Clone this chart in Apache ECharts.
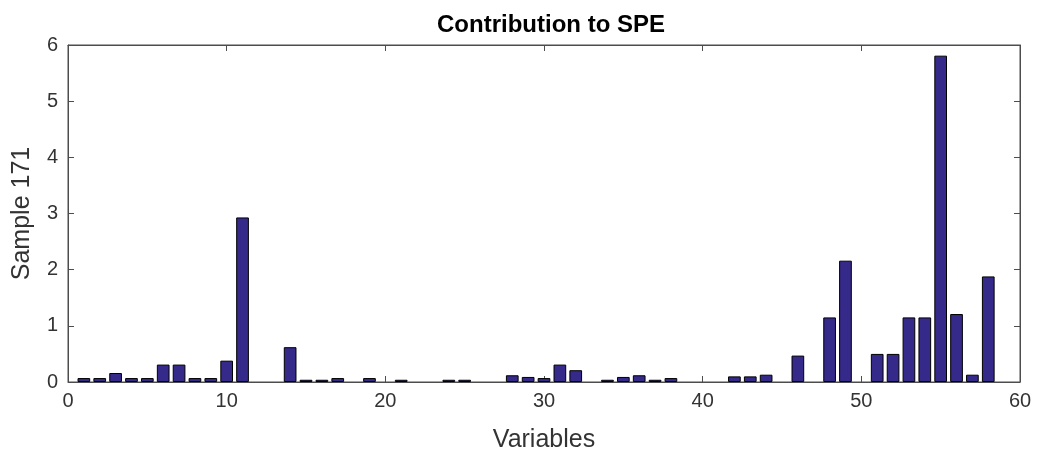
<!DOCTYPE html>
<html><head><meta charset="utf-8">
<script src="https://cdn.jsdelivr.net/npm/echarts@6/dist/echarts.min.js"></script>
<style>html,body{margin:0;padding:0;background:#fff}#c{width:1042px;height:458px}</style>
</head><body><div id="c"></div>
<script>
const variables = [1,2,3,4,5,6,7,8,9,10,11,12,13,14,15,16,17,18,19,20,21,22,23,24,25,26,27,28,29,30,31,32,33,34,35,36,37,38,39,40,41,42,43,44,45,46,47,48,49,50,51,52,53,54,55,56,57,58];
const contributions = [0.07,0.07,0.16,0.07,0.07,0.31,0.31,0.07,0.07,0.38,2.93,0,0,0.62,0.04,0.04,0.07,0,0.07,0,0.04,0,0,0.04,0.04,0,0,0.12,0.09,0.07,0.31,0.21,0,0.04,0.09,0.12,0.04,0.07,0,0,0,0.1,0.1,0.13,0,0.47,0,1.15,2.16,0,0.5,0.5,1.15,1.15,5.81,1.21,0.13,1.88];
const xTicks = [0,10,20,30,40,50,60];
const yTicks = [0,1,2,3,4,5,6];

const chart = echarts.init(document.getElementById('c'));
const font = 'Liberation Sans, Arial, sans-serif';
const lineCol = '#4d4d4d';
const mkLine = () => ({show:true, onZero:false, lineStyle:{color:lineCol, width:1}});
const mkTick = () => ({show:true, inside:true, length:6, lineStyle:{color:lineCol, width:1}});
const gridL = 68, gridR = 22, W = 1042;
const barW = (W - gridL - gridR) / (xTicks[xTicks.length-1] - xTicks[0]) * 0.8;
const data = [];
variables.forEach((v,i)=>{ if (contributions[i] > 0) data.push([v, contributions[i]]); });
chart.setOption({
  animation:false,
  title:{text:'Contribution to SPE', left:546, textAlign:'center', top:8,
    textStyle:{fontFamily:font, fontSize:24, fontWeight:'bold', color:'#000'}},
  grid:{left:gridL, right:gridR, top:45, bottom:75, show:true, borderColor:lineCol, borderWidth:1, backgroundColor:'transparent'},
  xAxis:[{type:'value', min:xTicks[0], max:xTicks[xTicks.length-1], interval:10, position:'bottom',
    name:'Variables', nameLocation:'middle', nameGap:46,
    nameTextStyle:{fontFamily:font, fontSize:25, color:'#333'},
    axisLine:mkLine(), axisTick:mkTick(), splitLine:{show:false},
    axisLabel:{fontFamily:font, fontSize:20, color:'#333', margin:9}},
   {type:'value', min:xTicks[0], max:xTicks[xTicks.length-1], interval:10, position:'top',
    axisLine:mkLine(), axisTick:mkTick(), splitLine:{show:false}, axisLabel:{show:false}}],
  yAxis:[{type:'value', min:yTicks[0], max:yTicks[yTicks.length-1], interval:1, position:'left',
    name:'Sample 171', nameLocation:'middle', nameGap:33, nameRotate:90,
    nameTextStyle:{fontFamily:font, fontSize:25, color:'#333'},
    axisLine:mkLine(), axisTick:mkTick(), splitLine:{show:false},
    axisLabel:{fontFamily:font, fontSize:20, color:'#333', margin:10}},
   {type:'value', min:yTicks[0], max:yTicks[yTicks.length-1], interval:1, position:'right',
    axisLine:mkLine(), axisTick:mkTick(), splitLine:{show:false}, axisLabel:{show:false}}],
  series:[{type:'bar', xAxisIndex:0, yAxisIndex:0, data:data, barWidth:barW,
    itemStyle:{color:'#35298a', borderColor:'#000', borderWidth:1}},
    {type:'line', xAxisIndex:1, yAxisIndex:1, data:[], silent:true}]
});
</script></body></html>
